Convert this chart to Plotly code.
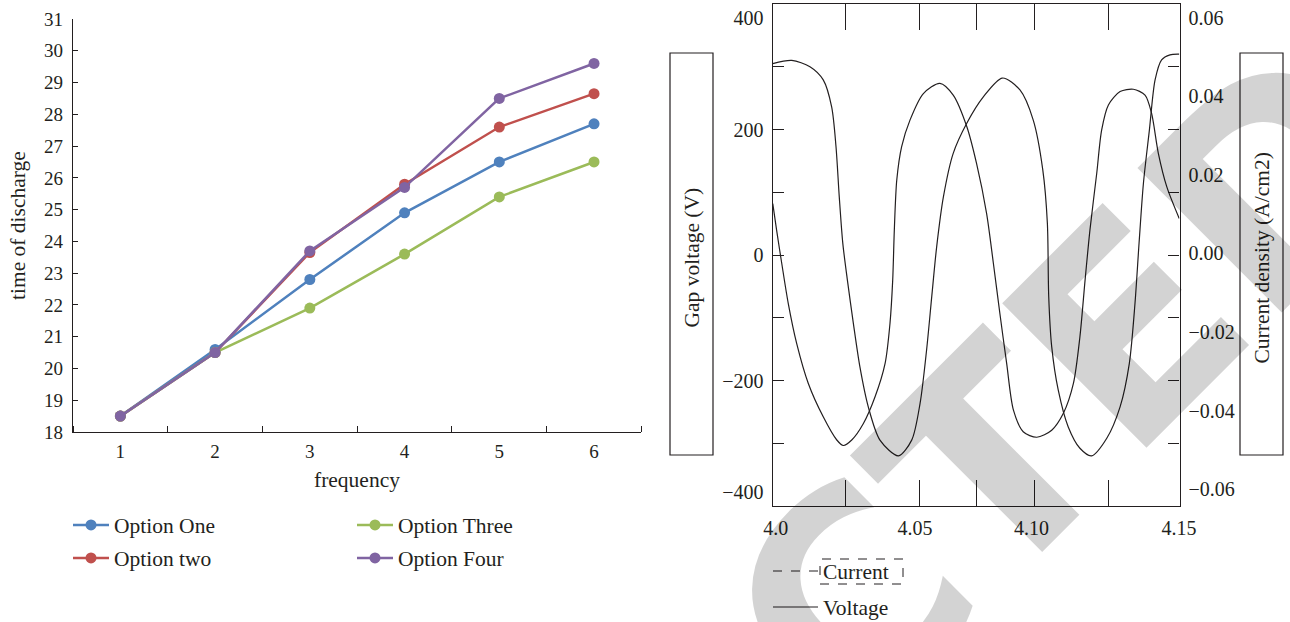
import plotly.graph_objects as go

W, H = 1290, 622
def px(x): return x / W
def py(y): return 1 - y / H

# ---------------- left chart data ----------------
frequency = [1, 2, 3, 4, 5, 6]
option_one = [18.5, 20.6, 22.8, 24.9, 26.5, 27.7]
option_two = [18.5, 20.5, 23.65, 25.8, 27.6, 28.65]
option_three = [18.5, 20.5, 21.9, 23.6, 25.4, 26.5]
option_four = [18.5, 20.5, 23.7, 25.7, 28.5, 29.6]
series_names = ["Option One", "Option two", "Option Three", "Option Four"]
series_colors = ["#4F81BD", "#C0504D", "#9BBB59", "#8064A2"]

# ---------------- right chart data ----------------
time_v = [4.0001, 4.0071, 4.0138, 4.0187, 4.0218, 4.0234, 4.0246, 4.0259, 4.0276, 4.0298,
          4.0322, 4.0353, 4.0396, 4.0464, 4.0513, 4.0544, 4.0568, 4.0587, 4.0605, 4.0630,
          4.0666, 4.0716, 4.0777, 4.0847, 4.0912, 4.0961, 4.0996, 4.1013, 4.1018, 4.1029,
          4.1053, 4.1090, 4.1133, 4.1176, 4.1232, 4.1281, 4.1315, 4.1336, 4.1351, 4.1367,
          4.1389, 4.1410, 4.1434, 4.1465, 4.1499]
voltage = [305, 310, 300, 279, 236, 173, 93, 19, -40, -109,
           -178, -242, -295, -320, -295, -236, -151, -66, 13, 93,
           162, 210, 252, 282, 263, 215, 136, 51, -66, -146,
           -215, -274, -308, -320, -292, -242, -173, -77, 19, 114,
           199, 279, 311, 319, 320]
time_i = [4.0001, 4.0015, 4.0034, 4.0058, 4.0089, 4.0132, 4.0187, 4.0237, 4.0261, 4.0292,
          4.0335, 4.0378, 4.0415, 4.0433, 4.0443, 4.0449, 4.0458, 4.0476, 4.0507, 4.0556,
          4.0617, 4.0666, 4.0716, 4.0752, 4.0789, 4.0814, 4.0838, 4.0863, 4.0888, 4.0924,
          4.0974, 4.1029, 4.1072, 4.1109, 4.1133, 4.1152, 4.1170, 4.1195, 4.1213, 4.1238,
          4.1281, 4.1330, 4.1373, 4.1397, 4.1422, 4.1453, 4.1499]
current = [0.0127, 0.0060, -0.0025, -0.0127, -0.0229, -0.0331, -0.0416, -0.0475, -0.0489, -0.0475,
           -0.0433, -0.0365, -0.0280, -0.0178, -0.0068, 0.0060, 0.0187, 0.0272, 0.0340, 0.0407,
           0.0433, 0.0403, 0.0323, 0.0229, 0.0102, -0.0025, -0.0153, -0.0280, -0.0399, -0.0454,
           -0.0468, -0.0450, -0.0407, -0.0331, -0.0212, -0.0068, 0.0060, 0.0204, 0.0314, 0.0378,
           0.0412, 0.0418, 0.0403, 0.0357, 0.0255, 0.0170, 0.0089]

x_tick_marks = [4.027, 4.054, 4.075, 4.0965, 4.124]
x_label_vals = [4.0012, 4.0525, 4.0955, 4.1498]
x_label_text = ["4.0", "4.05", "4.10", "4.15"]
v_tick_marks = [-300, -200, -100, 0, 100, 200, 300]
v_label_vals = [378, 200, 0, -200, -378]
v_label_text = ["400", "200", "0", "\u2212200", "\u2212400"]
i_label_vals = [0.06, 0.04, 0.02, 0.0, -0.02, -0.04, -0.06]
i_label_text = ["0.06", "0.04", "0.02", "0.00", "\u22120.02", "\u22120.04", "\u22120.06"]

INK = "#231f20"
FONT = "Liberation Serif"

fig = go.Figure()

series = [option_one, option_two, option_three, option_four]
legend_ids = ["legend", "legend2", "legend3", "legend4"]
for name, vals, col, lg in zip(series_names, series, series_colors, legend_ids):
    fig.add_trace(go.Scatter(
        x=frequency, y=vals, name=name, mode="lines+markers",
        line=dict(color=col, width=2.5), marker=dict(color=col, size=11),
        xaxis="x", yaxis="y", legend=lg))

# right chart curves
fig.add_trace(go.Scatter(x=time_v, y=voltage, name="Voltage", mode="lines",
                         line=dict(color=INK, width=1.2, shape="spline", smoothing=0.8),
                         xaxis="x2", yaxis="y2", legend="legend6"))
fig.add_trace(go.Scatter(x=time_i, y=current, name="Current", mode="lines",
                         line=dict(color=INK, width=1.2, shape="spline", smoothing=0.8),
                         xaxis="x2", yaxis="y4", showlegend=False))
# legend entry for the current curve (empty, lives on the label-only axes)
fig.add_trace(go.Scatter(x=[None], y=[None], name="Current", mode="lines",
                         line=dict(color=INK, width=1.2, dash="dash"),
                         xaxis="x3", yaxis="y3", legend="legend5", hoverinfo="skip"))

tick_left = dict(family=FONT, size=19, color=INK)
tick_right = dict(family=FONT, size=20, color=INK)
txt = dict(family=FONT, size=21.5, color=INK)

layout = dict(
    width=W, height=H, autosize=False,
    margin=dict(l=0, r=0, t=0, b=0, autoexpand=False),
    paper_bgcolor="white", plot_bgcolor="rgba(0,0,0,0)",
    font=txt,
    xaxis=dict(domain=[px(73), px(641.4)], range=[0.5, 6.5], anchor="y",
               tickvals=frequency, ticks="", showgrid=False, zeroline=False,
               showline=True, linecolor=INK, linewidth=1.3, tickfont=tick_left,
               ticklabelstandoff=2,
               minor=dict(tickmode="linear", tick0=0.5, dtick=1, ticks="inside",
                          ticklen=6, tickcolor=INK, tickwidth=1.2, showgrid=False)),
    yaxis=dict(domain=[py(432), py(19)], range=[18, 31], anchor="x", dtick=1,
               ticks="inside", ticklen=5, tickcolor=INK, tickwidth=1.2,
               showgrid=False, zeroline=False, showline=True, linecolor=INK,
               linewidth=1.3, tickfont=tick_left, ticklabelstandoff=5),
    xaxis2=dict(domain=[px(772.5), px(1179.5)], range=[4.0, 4.15], anchor="y2",
                tickvals=x_tick_marks, ticks="inside", ticklen=26, tickwidth=1.3,
                tickcolor=INK, showticklabels=False, mirror="ticks", showline=True,
                linecolor=INK, linewidth=1.3, showgrid=False, zeroline=False),
    xaxis3=dict(overlaying="x2", anchor="y2", range=[4.0, 4.15], side="bottom",
                tickvals=x_label_vals, ticktext=x_label_text, ticks="",
                showline=False, showgrid=False, zeroline=False, tickfont=tick_right,
                ticklabelstandoff=8),
    yaxis2=dict(domain=[py(506), py(4)], range=[-400, 400], anchor="x2",
                tickvals=v_tick_marks, ticks="inside", ticklen=11, tickwidth=1.3,
                tickcolor=INK, showticklabels=False, mirror="ticks", showline=True,
                linecolor=INK, linewidth=1.3, showgrid=False, zeroline=False),
    yaxis3=dict(overlaying="y2", anchor="x2", side="left", range=[-400, 400],
                tickvals=v_label_vals, ticktext=v_label_text, ticks="",
                showline=False, showgrid=False, zeroline=False, tickfont=tick_right,
                ticklabelstandoff=8),
    yaxis4=dict(overlaying="y2", anchor="x2", side="right", range=[-0.0643, 0.0635],
                tickvals=i_label_vals, ticktext=i_label_text, ticks="",
                showline=False, showgrid=False, zeroline=False, tickfont=tick_right,
                ticklabelstandoff=8),
    showlegend=True,
)

def leg(x, y, iw):
    return dict(x=px(x), y=py(y), xref="paper", yref="paper", bgcolor="rgba(0,0,0,0)",
                borderwidth=0, font=txt, xanchor="left", yanchor="middle",
                orientation="v", itemwidth=iw)

layout["legend"] = leg(68, 525, 36)
layout["legend2"] = leg(68, 558, 36)
layout["legend3"] = leg(352, 525, 36)
layout["legend4"] = leg(352, 558, 36)
layout["legend5"] = leg(768, 571, 45)
layout["legend6"] = leg(768, 607, 45)

fig.update_layout(**layout)

def label(text, x, y, angle=0):
    fig.add_annotation(text=text, x=px(x), y=py(y), xref="paper", yref="paper",
                       xanchor="center", yanchor="middle", textangle=angle,
                       showarrow=False, font=txt)

# axis titles and boxed labels
label("time of discharge", 18, 226, -90)
label("frequency", 357, 480)
fig.add_shape(type="rect", xref="paper", yref="paper", x0=px(670), x1=px(713),
              y0=py(455), y1=py(53), line=dict(color=INK, width=1.2))
fig.add_shape(type="rect", xref="paper", yref="paper", x0=px(1240), x1=px(1283),
              y0=py(455), y1=py(53), line=dict(color=INK, width=1.2))
label("Gap voltage (V)", 691.5, 258, -90)
label("Current density (A/cm2)", 1261.5, 258, -90)
fig.add_shape(type="rect", xref="paper", yref="paper", x0=px(820), x1=px(903),
              y0=py(584), y1=py(559), line=dict(color=INK, width=1, dash="dash"))

# watermark
fig.add_annotation(text="RETRACTED", x=px(705), y=py(752), xref="paper", yref="paper",
                   xanchor="center", yanchor="middle", textangle=-45, showarrow=False,
                   font=dict(family="DejaVu Sans", size=280, weight="bold",
                             color="rgba(0,0,0,0.173)"))

fig.write_html("out.html", config={"displayModeBar": False},
               post_script="document.body.style.margin='0px';")
